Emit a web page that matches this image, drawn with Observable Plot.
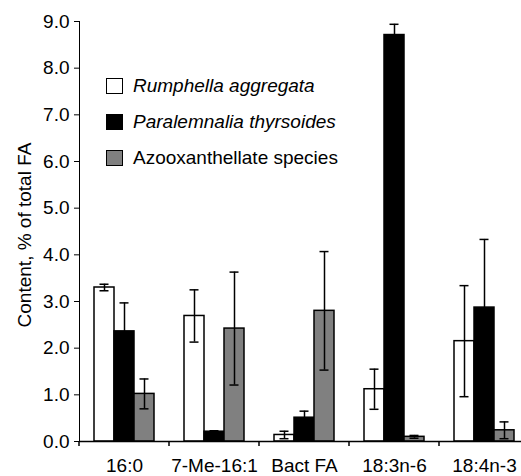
<!DOCTYPE html>
<html><head><meta charset="utf-8">
<script src="https://cdn.jsdelivr.net/npm/d3@7"></script>
<script src="https://cdn.jsdelivr.net/npm/@observablehq/plot@0.6"></script>
<style>
body{margin:0;background:#fff;font-family:"Liberation Sans",Arial,sans-serif;}
#wrap{position:relative;width:521px;height:476px;overflow:hidden;background:#fff;}
#legend{position:absolute;left:106px;top:78px;font-size:19px;color:#000;}
.row{position:absolute;left:0;height:16px;display:flex;align-items:center;white-space:nowrap;}
.sw{width:17px;height:16px;box-sizing:border-box;border:1.5px solid #000;margin-right:10px;flex:none;}
#ylabel{position:absolute;left:25px;top:235px;font-size:19px;color:#000;white-space:nowrap;line-height:22px;
  transform:translate(-50%,-50%) rotate(-90deg);}
</style></head><body><div id="wrap"></div>
<script>
const categories = ["16:0", "7-Me-16:1", "Bact FA", "18:3n-6", "18:4n-3"];
const seriesNames = ["Rumphella aggregata", "Paralemnalia thyrsoides", "Azooxanthellate species"];
const seriesItalic = [true, true, false];
const seriesColors = ["#ffffff", "#000000", "#808080"];
const rumphella = [3.30, 2.69, 0.14, 1.12, 2.15];
const rumphellaErr = [0.07, 0.56, 0.08, 0.43, 1.19];
const paralemnalia = [2.36, 0.21, 0.51, 8.71, 2.87];
const paralemnaliaErr = [0.61, 0.02, 0.14, 0.23, 1.46];
const azoo = [1.02, 2.42, 2.80, 0.10, 0.24];
const azooErr = [0.32, 1.21, 1.27, 0.03, 0.18];
const yTicks = [0, 1, 2, 3, 4, 5, 6, 7, 8, 9];
const yLabel = "Content, % of total FA";

const values = [rumphella, paralemnalia, azoo];
const errors = [rumphellaErr, paralemnaliaErr, azooErr];
const data = [];
categories.forEach((c, i) => {
  seriesNames.forEach((s, j) => {
    data.push({cat: c, series: s, value: values[j][i], err: errors[j][i]});
  });
});

function boundaryTicks(index, scales, vals, dims) {
  const y0 = dims.height - dims.marginBottom;
  const g = d3.create("svg:g");
  g.append("line")
    .attr("x1", dims.marginLeft).attr("x2", dims.marginLeft)
    .attr("y1", y0).attr("y2", y0 + 5)
    .attr("stroke", "#000").attr("stroke-width", 1.5);
  return g.node();
}

const chart = Plot.plot({
  width: 521,
  height: 476,
  marginLeft: 79,
  marginRight: -8,
  marginTop: 21,
  marginBottom: 35,
  style: {fontFamily: "Liberation Sans, Arial, sans-serif", fontSize: "19px", color: "#000", background: "#fff", overflow: "visible"},
  fx: {domain: categories, padding: 0, label: null, tickSize: 0, tickPadding: 17, axis: "bottom"},
  x: {domain: seriesNames, paddingInner: 0, paddingOuter: 0.75, axis: null},
  y: {domain: [0, 9], ticks: yTicks, tickFormat: d3.format(".1f"), tickSize: 5, tickPadding: 5, line: true,
      label: null, grid: false},
  color: {domain: seriesNames, range: seriesColors},
  marks: [
    Plot.barY(data, {fx: "cat", x: "series", y: "value", fill: "series", stroke: "#000", strokeWidth: 1.5}),
    Plot.ruleX(data, {fx: "cat", x: "series", y1: d => d.value - d.err, y2: d => d.value + d.err, stroke: "#000", strokeWidth: 1.5}),
    Plot.tickY(data, {fx: "cat", x: "series", y: d => d.value + d.err, insetLeft: 5.5, insetRight: 5.5, stroke: "#000", strokeWidth: 1.5}),
    Plot.tickY(data, {fx: "cat", x: "series", y: d => d.value - d.err, insetLeft: 5.5, insetRight: 5.5, stroke: "#000", strokeWidth: 1.5}),
    Plot.ruleY([0], {stroke: "#000", strokeWidth: 1.5}),
    boundaryTicks
  ]
});
const wrap = document.getElementById("wrap");
wrap.appendChild(chart);

const yl = document.createElement("div");
yl.id = "ylabel";
yl.textContent = yLabel;
wrap.appendChild(yl);

const legend = document.createElement("div");
legend.id = "legend";
seriesNames.forEach((s, j) => {
  const row = document.createElement("div");
  row.className = "row";
  row.style.top = (j * 36) + "px";
  const sw = document.createElement("div");
  sw.className = "sw";
  sw.style.background = seriesColors[j];
  const t = document.createElement("span");
  t.textContent = s;
  if (seriesItalic[j]) t.style.fontStyle = "italic";
  row.appendChild(sw); row.appendChild(t);
  legend.appendChild(row);
});
wrap.appendChild(legend);
</script></body></html>
